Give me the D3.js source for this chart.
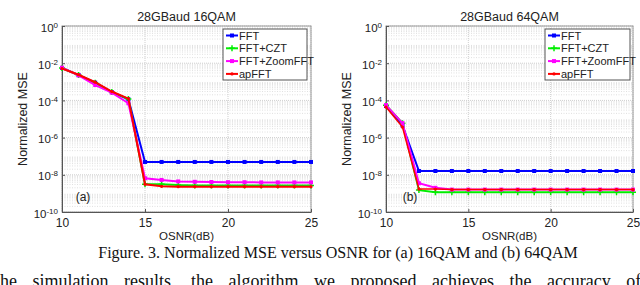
<!DOCTYPE html>
<html>
<head>
<meta charset="utf-8">
<script src="https://cdn.jsdelivr.net/npm/d3@7"></script>
<style>
  body { margin: 0; background: #fff; }
  svg { display: block; }
</style>
</head>
<body>
<div class="container"></div>
<script>
const osnr = [10, 11, 12, 13, 14, 15, 16, 17, 18, 19, 20, 21, 22, 23, 24, 25];
const xTicks = [10, 15, 20, 25];
const yTicks = [1e0, 1e-2, 1e-4, 1e-6, 1e-8, 1e-10];
const seriesNames = ["FFT", "FFT+CZT", "FFT+ZoomFFT", "apFFT"];

// 28GBaud 16QAM
const fft16 = [5.5e-3, 2.3e-3, 9e-4, 2.8e-4, 1.15e-4, 4.9e-8, 4.9e-8, 4.9e-8, 4.9e-8, 4.9e-8, 4.9e-8, 4.9e-8, 4.9e-8, 4.9e-8, 4.9e-8, 4.9e-8];
const czt16 = [5.5e-3, 2.3e-3, 9e-4, 2.8e-4, 1.2e-4, 3.1e-9, 3.1e-9, 2.8e-9, 2.7e-9, 2.7e-9, 2.7e-9, 2.7e-9, 2.7e-9, 2.7e-9, 2.7e-9, 2.7e-9];
const zoom16 = [5.8e-3, 2.2e-3, 6.7e-4, 2.6e-4, 7e-5, 6.5e-9, 5.3e-9, 4.4e-9, 4.2e-9, 4.1e-9, 4e-9, 4e-9, 3.9e-9, 3.9e-9, 3.9e-9, 3.9e-9];
const ap16 = [5.2e-3, 2.4e-3, 9.5e-4, 3e-4, 1.25e-4, 3.1e-9, 2.4e-9, 2.3e-9, 2.3e-9, 2.3e-9, 2.3e-9, 2.3e-9, 2.3e-9, 2.3e-9, 2.3e-9, 2.3e-9];

// 28GBaud 64QAM
const fft64 = [5e-5, 4.5e-6, 1.6e-8, 1.6e-8, 1.6e-8, 1.6e-8, 1.6e-8, 1.6e-8, 1.6e-8, 1.6e-8, 1.6e-8, 1.6e-8, 1.6e-8, 1.6e-8, 1.6e-8, 1.6e-8];
const czt64 = [5.5e-5, 6e-6, 1.5e-9, 1.15e-9, 1.15e-9, 1.15e-9, 1.15e-9, 1.15e-9, 1.15e-9, 1.15e-9, 1.15e-9, 1.15e-9, 1.15e-9, 1.15e-9, 1.15e-9, 1.15e-9];
const zoom64 = [5.6e-5, 6e-6, 3.5e-9, 2e-9, 1.6e-9, 1.6e-9, 1.6e-9, 1.6e-9, 1.6e-9, 1.6e-9, 1.6e-9, 1.6e-9, 1.6e-9, 1.6e-9, 1.6e-9, 1.6e-9];
const ap64 = [4.4e-5, 3.7e-6, 1.7e-9, 1.7e-9, 1.6e-9, 1.6e-9, 1.6e-9, 1.6e-9, 1.6e-9, 1.6e-9, 1.6e-9, 1.6e-9, 1.6e-9, 1.6e-9, 1.6e-9, 1.6e-9];

const colors = ["#0000ff", "#00ee00", "#ff00ff", "#ff0000"];
const markers = ["square", "plus", "square", "dot"];
const font = "'Liberation Sans', Arial, sans-serif";

const w = 640, h = 285;
const svg = d3.select(".container").append("svg").attr("width", w).attr("height", h);

const panels = [
  { title: "28GBaud 16QAM", tag: "(a)", series: [fft16, czt16, zoom16, ap16],
    x0: 62, x1: 311, tagX: 83, legX: 223, legW: 84 },
  { title: "28GBaud 64QAM", tag: "(b)", series: [fft64, czt64, zoom64, ap64],
    x0: 386, x1: 633, tagX: 410, legX: 545, legW: 85 }
];
const yTop = 26, yBottom = 212;

function drawMarker(g, type, color, cx, cy) {
  if (type === "square") {
    g.append("rect").attr("x", cx - 2).attr("y", cy - 2).attr("width", 4).attr("height", 4).attr("fill", color);
  } else if (type === "plus") {
    g.append("path").attr("d", `M${cx - 3},${cy}H${cx + 3}M${cx},${cy - 3}V${cy + 3}`)
      .attr("stroke", color).attr("stroke-width", 1.5);
  } else {
    g.append("circle").attr("cx", cx).attr("cy", cy).attr("r", 1.6).attr("fill", color);
  }
}

panels.forEach((p) => {
  const xScale = d3.scaleLinear().domain([10, 25]).range([p.x0, p.x1]);
  const yScale = d3.scaleLog().domain([1e-10, 1]).range([yBottom, yTop]);
  const g = svg.append("g");

  // minor grid
  const minor = [];
  for (let e = -10; e < 0; e++) for (let m = 2; m <= 9; m++) minor.push(m * Math.pow(10, e));
  g.selectAll(".minor").data(minor).enter().append("line")
    .attr("x1", p.x0).attr("x2", p.x1)
    .attr("y1", (d) => yScale(d)).attr("y2", (d) => yScale(d))
    .attr("stroke", "#d8d8d8").attr("stroke-width", 0.8).attr("stroke-dasharray", "1,1.5");
  // major grid
  g.selectAll(".hmaj").data(yTicks).enter().append("line")
    .attr("x1", p.x0).attr("x2", p.x1)
    .attr("y1", (d) => yScale(d)).attr("y2", (d) => yScale(d))
    .attr("stroke", "#cfcfcf").attr("stroke-width", 1).attr("stroke-dasharray", "1,1");
  g.selectAll(".vmaj").data(xTicks).enter().append("line")
    .attr("x1", (d) => xScale(d)).attr("x2", (d) => xScale(d))
    .attr("y1", yTop).attr("y2", yBottom)
    .attr("stroke", "#cfcfcf").attr("stroke-width", 1).attr("stroke-dasharray", "1,1");

  // box
  g.append("rect").attr("x", p.x0).attr("y", yTop).attr("width", p.x1 - p.x0).attr("height", yBottom - yTop)
    .attr("fill", "none").attr("stroke", "#9a9a9a").attr("stroke-width", 1);

  // axes
  const xAxis = d3.axisBottom(xScale).tickValues(xTicks).tickSizeInner(-3).tickSizeOuter(0).tickPadding(6);
  const xg = g.append("g").attr("transform", `translate(0,${yBottom})`).call(xAxis);
  xg.select(".domain").attr("stroke", "#555");
  xg.selectAll(".tick line").attr("stroke", "#555");
  xg.selectAll("text").attr("font-family", font).attr("font-size", 12).attr("fill", "#222");

  const yAxis = d3.axisLeft(yScale).tickValues(yTicks).tickSizeInner(-3).tickSizeOuter(0).tickPadding(5)
    .tickFormat(() => "");
  const yg = g.append("g").attr("transform", `translate(${p.x0},0)`).call(yAxis);
  yg.select(".domain").attr("stroke", "#555");
  yg.selectAll(".tick line").attr("stroke", "#555");
  yg.selectAll(".tick text").each(function (d) {
    const t = d3.select(this).attr("font-family", font).attr("font-size", 11.5).attr("fill", "#222")
      .attr("x", -4).attr("dy", "0.45em");
    t.append("tspan").text("10");
    t.append("tspan").attr("dy", "-0.5em").attr("font-size", 8).text(String(Math.round(Math.log10(d))));
  });

  // series
  const line = d3.line().x((d, i) => xScale(osnr[i])).y((d) => yScale(d));
  p.series.forEach((s, k) => {
    g.append("path").datum(s).attr("d", line).attr("fill", "none")
      .attr("stroke", colors[k]).attr("stroke-width", k === 3 && p.tag === "(b)" ? 1.5 : 2);
    s.forEach((v, i) => drawMarker(g, markers[k], colors[k], xScale(osnr[i]), yScale(v)));
  });

  // labels
  svg.append("text").attr("x", (p.x0 + p.x1) / 2).attr("y", 21).attr("text-anchor", "middle")
    .attr("font-family", font).attr("font-size", 12.5).attr("fill", "#222").text(p.title);
  svg.append("text").attr("x", (p.x0 + p.x1) / 2).attr("y", 240).attr("text-anchor", "middle")
    .attr("font-family", font).attr("font-size", 11.5).attr("fill", "#222").text("OSNR(dB)");
  svg.append("text").attr("transform", `translate(${p.x0 - 35},${(yTop + yBottom) / 2}) rotate(-90)`)
    .attr("text-anchor", "middle").attr("font-family", font).attr("font-size", 12.5).attr("fill", "#222")
    .text("Normalized MSE");
  svg.append("text").attr("x", p.tagX).attr("y", 201).attr("text-anchor", "middle")
    .attr("font-family", font).attr("font-size", 12).attr("fill", "#222").text(p.tag);

  // legend
  const lg = svg.append("g").attr("transform", `translate(${p.legX},29)`);
  lg.append("rect").attr("width", p.legW).attr("height", 51).attr("fill", "#fff")
    .attr("stroke", "#555").attr("stroke-width", 1);
  seriesNames.forEach((name, k) => {
    const yy = 6.5 + k * 12.8;
    lg.append("line").attr("x1", 3).attr("x2", 15).attr("y1", yy).attr("y2", yy)
      .attr("stroke", colors[k]).attr("stroke-width", 2);
    drawMarker(lg, markers[k], colors[k], 9, yy);
    lg.append("text").attr("x", 16).attr("y", yy + 4).attr("font-family", font).attr("font-size", 11)
      .attr("fill", "#222").text(name);
  });
});

// caption
const cap = svg.append("text").attr("x", 338).attr("y", 257.5).attr("text-anchor", "middle")
  .attr("font-family", "'Liberation Serif', 'Times New Roman', serif").attr("font-size", 16).attr("fill", "#111")
  .text("Figure. 3. Normalized MSE versus OSNR for (a) 16QAM and (b) 64QAM");
const capLen = cap.node().getComputedTextLength();
cap.attr("font-size", 16 * 480 / capLen);

// start of the body text below, cut by the frame (as in the reference)
svg.append("text").attr("x", -5).attr("y", 287)
  .attr("font-family", "'Liberation Serif', 'Times New Roman', serif").attr("font-size", 18).attr("fill", "#111")
  .attr("word-spacing", 11)
  .text("the simulation results, the algorithm we proposed achieves the accuracy of");
</script>
</body>
</html>
